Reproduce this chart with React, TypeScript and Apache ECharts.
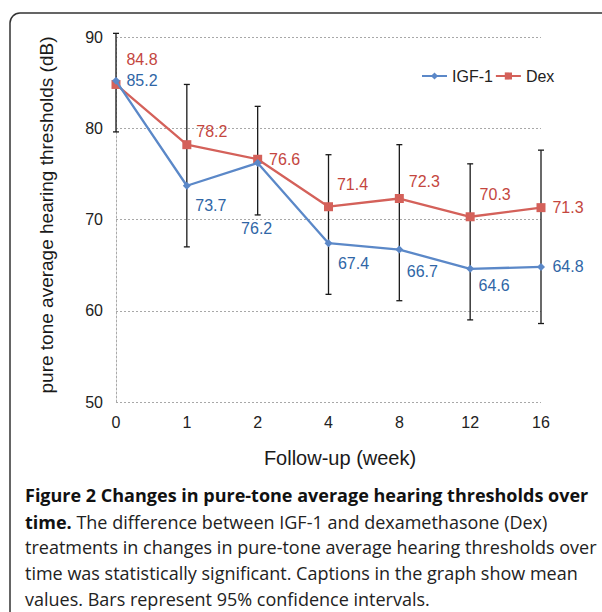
import React, { useEffect, useRef } from "react";
import * as echarts from "echarts";

const categories = ["0", "1", "2", "4", "8", "12", "16"];
const igfValues = [85.2, 73.7, 76.2, 67.4, 66.7, 64.6, 64.8];
const dexValues = [84.8, 78.2, 76.6, 71.4, 72.3, 70.3, 71.3];
const ciLow = [79.6, 67.0, 70.5, 61.8, 61.1, 59.0, 58.6];
const ciHigh = [90.4, 84.8, 82.4, 77.1, 78.2, 76.1, 77.6];
const yMin = 50;
const yMax = 90;
const yInterval = 10;

const xAxisTitle = "Follow-up (week)";
const yAxisTitle = "pure tone average hearing thresholds (dB)";
const captionLines = [
  "Figure 2 Changes in pure-tone average hearing thresholds over",
  "{b|time.} The difference between IGF-1 and dexamethasone (Dex)",
  "treatments in changes in pure-tone average hearing thresholds over",
  "time was statistically significant. Captions in the graph show mean",
  "values. Bars represent 95% confidence intervals.",
];

// label placement (style, not data)
const igfLabelOffsets = [[26, 0], [24, 20], [-1, 66], [25, 20], [23, 22], [24, 17], [27, 0]];
const dexLabelOffsets = [[26, -25], [25, -13], [27, 0], [24, -22], [25, -17], [25, -22], [27, 0]];

const BLUE = "#5b88c8";
const RED = "#d4615a";
const BLUE_TXT = "#2f66a6";
const RED_TXT = "#c4463e";
const PLOT_FONT = "'Liberation Sans', Arial, sans-serif";
const CAP_FONT = "'Open Sans', 'Noto Sans', sans-serif";

export default function App() {
  const ref = useRef<HTMLDivElement>(null);
  useEffect(() => {
    if (!ref.current) return;
    const chart = echarts.init(ref.current, undefined, { renderer: "svg" });
    const capSize = 18;
    const capStyle = (i: number, y: number, bold = false) => ({
      type: "text",
      x: 25,
      y,
      style: {
        text: captionLines[i],
        font: `${bold ? "bold " : ""}${capSize}px ${CAP_FONT}`,
        fill: bold ? "#111" : "#222",
        verticalAlign: "middle",
        rich: {
          b: { fontFamily: CAP_FONT, fontSize: capSize, fontWeight: "bold", fill: "#111", color: "#111" },
        },
      },
    });
    const option: any = {
      animation: false,
      backgroundColor: "#ffffff",
      grid: { left: 116, right: 61, top: 37, bottom: 210 },
      legend: {
        left: 416,
        top: 63,
        itemWidth: 25,
        itemHeight: 9,
        itemGap: 2,
        textStyle: { fontFamily: PLOT_FONT, fontSize: 16, color: "#222" },
        data: ["IGF-1", "Dex"],
      },
      xAxis: {
        type: "category",
        data: categories,
        boundaryGap: false,
        axisLine: { show: false },
        axisTick: { show: false },
        axisLabel: { fontFamily: PLOT_FONT, fontSize: 16, color: "#222", margin: 12 },
        splitLine: { show: false },
      },
      yAxis: {
        type: "value",
        min: yMin,
        max: yMax,
        interval: yInterval,
        axisLine: { show: true, lineStyle: { color: "#aaa", type: [2, 2], width: 1 } },
        axisTick: { show: false },
        axisLabel: { fontFamily: PLOT_FONT, fontSize: 16, color: "#222", margin: 13 },
        splitLine: { show: true, lineStyle: { color: "#a8a8a8", type: [2, 2], width: 1 } },
      },
      series: [
        {
          type: "custom",
          name: "CI",
          z: 1,
          clip: false,
          silent: true,
          data: ciLow.map((lo, i) => [i, lo, ciHigh[i]]),
          encode: { x: 0, y: [1, 2] },
          renderItem: (params: any, api: any) => {
            const x = api.value(0);
            const pLo = api.coord([x, api.value(1)]);
            const pHi = api.coord([x, api.value(2)]);
            const w = 3;
            const st = { stroke: "#1a1a1a", lineWidth: 1.3 };
            return {
              type: "group",
              children: [
                { type: "line", shape: { x1: pLo[0], y1: pLo[1], x2: pHi[0], y2: pHi[1] }, style: st },
                { type: "line", shape: { x1: pLo[0] - w, y1: pLo[1], x2: pLo[0] + w, y2: pLo[1] }, style: st },
                { type: "line", shape: { x1: pHi[0] - w, y1: pHi[1], x2: pHi[0] + w, y2: pHi[1] }, style: st },
              ],
            };
          },
        },
        {
          type: "line",
          name: "IGF-1",
          z: 3,
          data: igfValues.map((v, i) => ({ value: v, label: { offset: igfLabelOffsets[i] } })),
          symbol: "diamond",
          symbolSize: 8,
          lineStyle: { color: BLUE, width: 2.3 },
          itemStyle: { color: BLUE },
          label: {
            show: true,
            position: "inside",
            fontFamily: PLOT_FONT,
            fontSize: 16,
            color: BLUE_TXT,
            formatter: (p: any) => Number(p.value).toFixed(1),
          },
        },
        {
          type: "line",
          name: "Dex",
          z: 2,
          data: dexValues.map((v, i) => ({ value: v, label: { offset: dexLabelOffsets[i] } })),
          symbol: "rect",
          symbolSize: 9,
          lineStyle: { color: RED, width: 2.3 },
          itemStyle: { color: RED },
          label: {
            show: true,
            position: "inside",
            fontFamily: PLOT_FONT,
            fontSize: 16,
            color: RED_TXT,
            formatter: (p: any) => Number(p.value).toFixed(1),
          },
        },
      ],
      graphic: [
        {
          type: "rect",
          shape: { x: 10, y: 13, width: 640, height: 640, r: 10 },
          style: { fill: "none", stroke: "#333", lineWidth: 1.5 },
          silent: true,
        },
        {
          type: "text",
          x: 46,
          y: 215,
          rotation: Math.PI / 2,
          style: {
            text: yAxisTitle,
            font: `19px ${PLOT_FONT}`,
            fill: "#1a1a1a",
            align: "center",
            verticalAlign: "middle",
          },
        },
        {
          type: "text",
          x: 340,
          y: 458,
          style: {
            text: xAxisTitle,
            font: `20px ${PLOT_FONT}`,
            fill: "#1a1a1a",
            align: "center",
            verticalAlign: "middle",
          },
        },
        capStyle(0, 495, true),
        capStyle(1, 521.5),
        capStyle(2, 547),
        capStyle(3, 573),
        capStyle(4, 598.5),
      ],
    };
    chart.setOption(option);
    return () => chart.dispose();
  }, []);
  return <div ref={ref} style={{ width: 602, height: 612, position: "absolute", left: 0, top: 0 }} />;
}
